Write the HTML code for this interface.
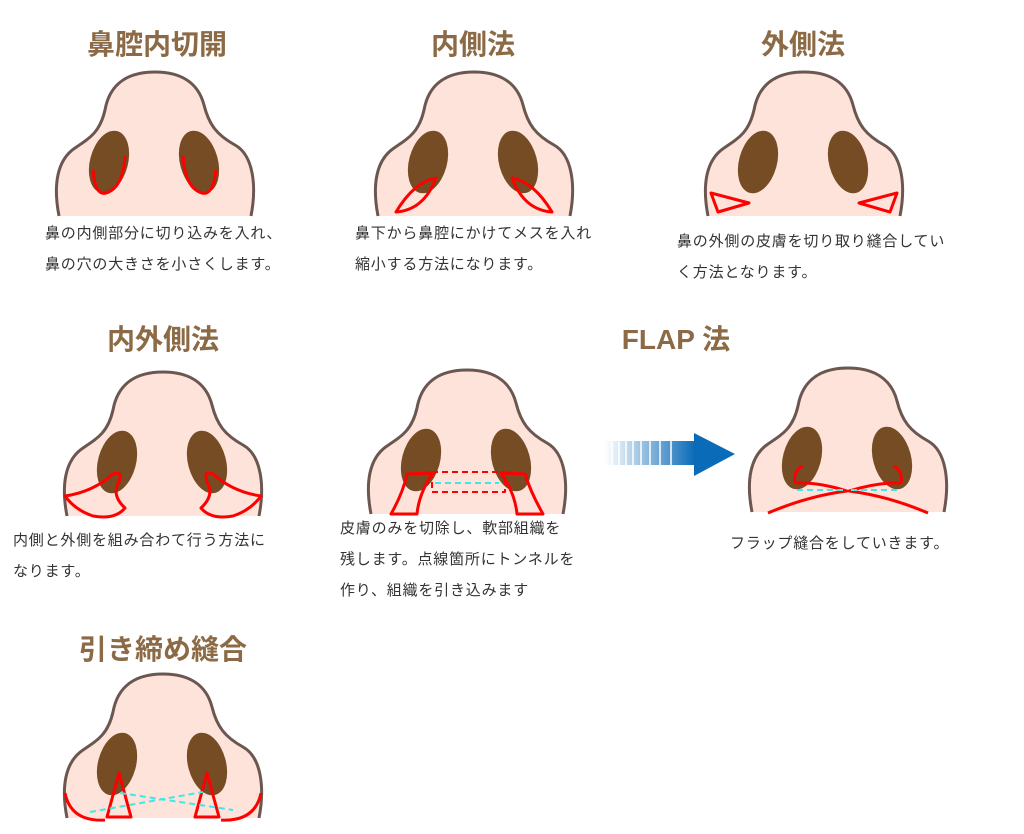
<!DOCTYPE html>
<html><head><meta charset="utf-8"><style>
body{margin:0;width:1024px;height:834px;background:#fff;overflow:hidden;position:relative;font-family:"Liberation Sans","Noto Sans CJK JP",sans-serif}
.t{position:absolute;color:#8b6a45;font-weight:bold;font-size:28px;transform:translateX(-50%);white-space:nowrap;line-height:30px}
.p{position:absolute;font-size:15px;letter-spacing:0.8px;color:#333;line-height:31px;white-space:nowrap}
svg{position:absolute;left:0;top:0}
</style></head><body>
<div class="t" style="left:157px;top:30px">鼻腔内切開</div>
<div class="t" style="left:473px;top:30px">内側法</div>
<div class="t" style="left:803px;top:30px">外側法</div>
<div class="t" style="left:163px;top:325px">内外側法</div>
<div class="t" style="left:676px;top:325px">FLAP 法</div>
<div class="t" style="left:163px;top:635px">引き締め縫合</div>
<div class="p" style="left:45px;top:218px">鼻の内側部分に切り込みを入れ、<br>鼻の穴の大きさを小さくします。</div>
<div class="p" style="left:355px;top:218px">鼻下から鼻腔にかけてメスを入れ<br>縮小する方法になります。</div>
<div class="p" style="left:677px;top:226px">鼻の外側の皮膚を切り取り縫合してい<br>く方法となります。</div>
<div class="p" style="left:13px;top:525px">内側と外側を組み合わて行う方法に<br>なります。</div>
<div class="p" style="left:340px;top:513px">皮膚のみを切除し、軟部組織を<br>残します。点線箇所にトンネルを<br>作り、組織を引き込みます</div>
<div class="p" style="left:730px;top:528px">フラップ縫合をしていきます。</div>
<svg width="1024" height="834" viewBox="0 0 1024 834">
<defs>
<g id="nose">
<path d="M4,146 C-2,115 2,90 20,78 C35,68 45,62 50,40 C55,12 75,2 100,2 C125,2 143,12 149,35 C154,55 162,65 180,75 C198,85 202,115 196,146 Z" fill="#fde3da"/>
<path d="M4,146 C-2,115 2,90 20,78 C35,68 45,62 50,40 C55,12 75,2 100,2 C125,2 143,12 149,35 C154,55 162,65 180,75 C198,85 202,115 196,146" fill="none" stroke="#6b5650" stroke-width="3"/>
<ellipse cx="54" cy="92" rx="19" ry="32" transform="rotate(15 54 92)" fill="#754c24"/>
<ellipse cx="144" cy="92" rx="19" ry="32" transform="rotate(-15 144 92)" fill="#754c24"/>
</g>
<linearGradient id="ag" x1="0" x2="1"><stop offset="0" stop-color="#fff"/><stop offset="1" stop-color="#0a6bb8"/></linearGradient>
</defs>
<g fill="none" stroke="#f00" stroke-width="3" stroke-linejoin="round">
<g transform="translate(55,70)"><use href="#nose" stroke="none"/>
<path d="M38,100 Q40,126 51,123 Q68,118 70,86"/><path d="M161,100 Q158,126 147,123 Q130,118 128,86"/></g>
<g transform="translate(374,70)"><use href="#nose" stroke="none"/>
<path d="M62,108 Q40,112 22,142 Q50,140 62,108 Z"/><path d="M138,108 Q160,112 178,142 Q150,140 138,108 Z"/></g>
<g transform="translate(704,70)"><use href="#nose" stroke="none"/>
<path d="M7,123 L45,133 L14,142 Z"/><path d="M193,123 L155,133 L186,142 Z"/></g>
<g transform="translate(63,370)"><use href="#nose" stroke="none"/>
<path d="M2,126 Q30,122 50,104 Q60,100 56,112 Q48,125 62,138 Q52,150 30,146 Q12,140 2,126 Z"/>
<path d="M198,126 Q170,122 150,104 Q140,100 144,112 Q152,125 138,138 Q148,150 170,146 Q188,140 198,126 Z"/></g>
<g transform="translate(367,368)"><use href="#nose" stroke="none"/>
<path d="M40,106 L66,105 Q52,125 50,146 L24,146 Q36,125 40,106 Z"/><path d="M158,106 L134,105 Q148,125 150,146 L176,146 Q164,125 158,106 Z"/>
<rect x="65" y="104" width="73" height="20" stroke-dasharray="6 4" stroke-width="2"/>
<path d="M68,115 L132,115" stroke="#3ee8e8" stroke-dasharray="6 4" stroke-width="2"/></g>
<g transform="translate(748,366)"><use href="#nose" stroke="none"/>
<path d="M20,147 Q60,130 99,125 Q70,116 47,117"/><path d="M55,100 Q45,104 47,117"/>
<path d="M180,147 Q140,130 101,125 Q130,116 153,117"/><path d="M145,100 Q155,104 153,117"/>
<path d="M49,124 L97,124 M103,124 L151,124" stroke="#3ee8e8" stroke-dasharray="6 4" stroke-width="2"/></g>
<g transform="translate(63,672)"><use href="#nose" stroke="none"/>
<path d="M2,121 Q8,150 42,148"/><path d="M198,121 Q192,150 158,148"/>
<path d="M56,101 L44,145 L68,145 Z"/><path d="M144,101 L132,145 L156,145 Z"/>
<path d="M27,140 L140,120 M57,121 L170,138" stroke="#3ee8e8" stroke-dasharray="6 4" stroke-width="2"/></g>
</g>
<g>
<rect x="605" y="441" width="90" height="24" fill="url(#ag)"/>
<g stroke="#fff" stroke-width="1.5"><line x1="612" y1="441" x2="612" y2="465"/><line x1="619" y1="441" x2="619" y2="465"/><line x1="626" y1="441" x2="626" y2="465"/><line x1="633" y1="441" x2="633" y2="465"/><line x1="641" y1="441" x2="641" y2="465"/><line x1="650" y1="441" x2="650" y2="465"/><line x1="660" y1="441" x2="660" y2="465"/><line x1="671" y1="441" x2="671" y2="465"/></g>
<path d="M694,433 L735,454 L694,476 Z" fill="#0a6bb8"/>
</g>
</svg>
</body></html>
